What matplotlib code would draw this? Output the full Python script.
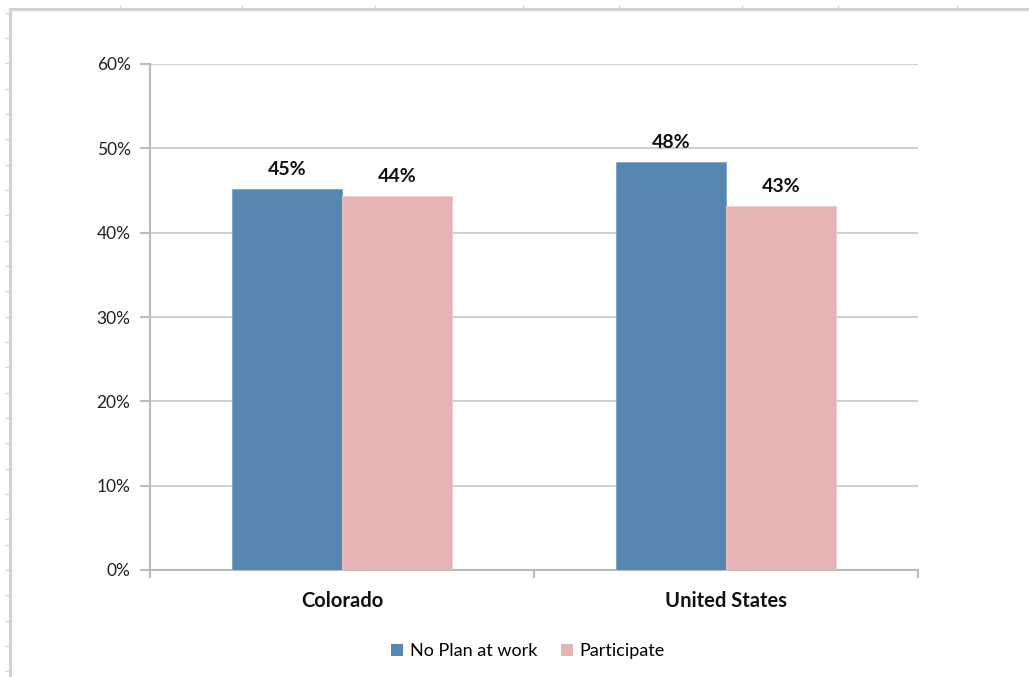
import matplotlib
matplotlib.use("Agg")
import matplotlib.pyplot as plt
from matplotlib.lines import Line2D
from matplotlib.patches import Patch

categories = ["Colorado", "United States"]
series_names = ["No Plan at work", "Participate"]
no_plan = [0.452, 0.484]
participate = [0.443, 0.432]
labels_no_plan = ["45%", "48%"]
labels_participate = ["44%", "43%"]
yticks = [0, 0.1, 0.2, 0.3, 0.4, 0.5, 0.6]
ytick_labels = ["0%", "10%", "20%", "30%", "40%", "50%", "60%"]

blue = "#5587B1"
pink = "#E5B4B4"
grid_c = "#D0D0D0"

plt.rcParams['font.family'] = ['Lato', 'DejaVu Sans']

W, H = 1029, 677
fig = plt.figure(figsize=(W / 100, H / 100), dpi=100)
# axes pixel box: x 150-918, y 64-570
ax = fig.add_axes([150 / W, 1 - 570 / H, (918 - 150) / W, (570 - 64) / H])

width = 0.286
x = [0, 1]
ax.bar([xi - width / 2 for xi in x], no_plan, width, color=blue, edgecolor="#7FA3C6", linewidth=0.6, zorder=3)
ax.bar([xi + width / 2 for xi in x], participate, width, color=pink, edgecolor="#EDC9C9", linewidth=0.6, zorder=3)

for xi, v, l in zip(x, no_plan, labels_no_plan):
    ax.annotate(l, (xi - width / 2, v), xytext=(0, 8), textcoords="offset points",
                ha="center", va="bottom", fontsize=14, fontweight="bold", color="#111111")
for xi, v, l in zip(x, participate, labels_participate):
    ax.annotate(l, (xi + width / 2, v), xytext=(0, 8), textcoords="offset points",
                ha="center", va="bottom", fontsize=14, fontweight="bold", color="#111111")

ax.set_xlim(-0.5, 1.5)
ax.set_ylim(0, 0.6)
ax.set_yticks(yticks)
ax.set_yticklabels(ytick_labels, fontsize=12.5, color="#222222")
ax.yaxis.grid(True, color=grid_c, linewidth=1.5, zorder=0)
ax.set_axisbelow(True)

ax.set_xticks([-0.5, 0.5, 1.5])
ax.set_xticklabels([])
ax.set_xticks(x, minor=True)
ax.set_xticklabels(categories, minor=True, fontsize=14.5, fontweight="bold", color="#111111")
ax.tick_params(axis="x", which="minor", length=0, pad=15)
ax.tick_params(axis="x", which="major", length=6, width=1.5, color="#BBBBBB", direction="out")
ax.tick_params(axis="y", length=7, width=1.5, color="#BBBBBB", direction="out", pad=7)

for s in ["top", "right"]:
    ax.spines[s].set_visible(False)
ax.spines["left"].set_color("#BBBBBB")
ax.spines["left"].set_linewidth(1.5)
ax.spines["bottom"].set_color("#BBBBBB")
ax.spines["bottom"].set_linewidth(1.5)

handles = [Patch(facecolor=blue, edgecolor="none"), Patch(facecolor=pink, edgecolor="none")]
fig.legend(handles, series_names, loc="center", bbox_to_anchor=(528 / W, 1 - 651 / H),
           ncol=2, frameon=False, fontsize=13, handlelength=0.65, handleheight=0.65,
           handletextpad=0.4, columnspacing=1.3)

# outer frame (spreadsheet-like border)
fc = "#D2D2D2"
fig.add_artist(Line2D([10 / W, 1], [1 - 9 / H, 1 - 9 / H], color=fc, linewidth=2.2, transform=fig.transFigure))
fig.add_artist(Line2D([10 / W, 10 / W], [1 - 9 / H, 0], color=fc, linewidth=2.2, transform=fig.transFigure))
for k in range(27):
    yy = 12.7 + 25.33 * k
    if yy > H:
        break
    fig.add_artist(Line2D([6 / W, 10 / W], [1 - yy / H, 1 - yy / H], color=fc, linewidth=1, transform=fig.transFigure))
for xx in [120, 242, 375, 523, 619, 742, 838, 957]:
    fig.add_artist(Line2D([xx / W, xx / W], [1 - 6 / H, 1 - 9 / H], color=fc, linewidth=1, transform=fig.transFigure))

fig.savefig("out.png", dpi=100)
